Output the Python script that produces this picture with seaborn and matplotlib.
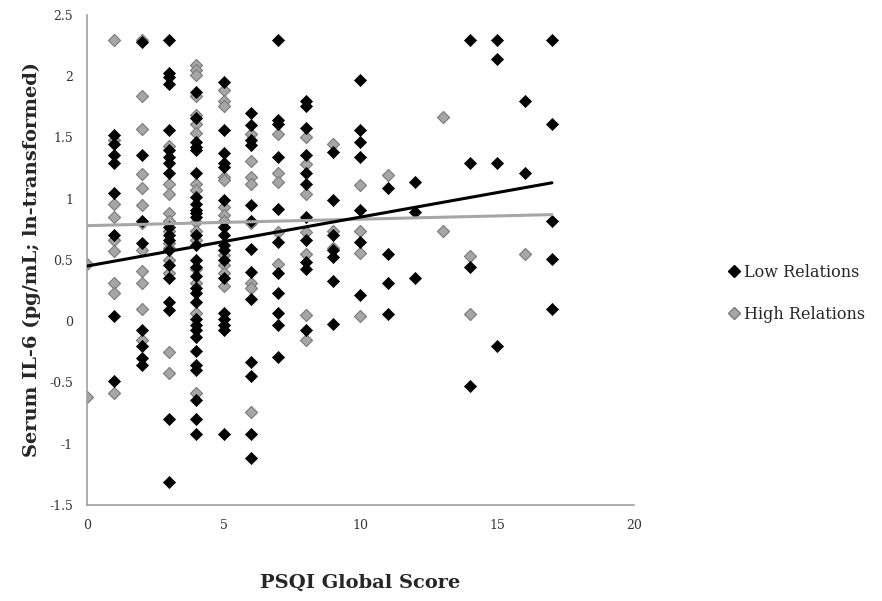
import matplotlib
matplotlib.use("Agg")
import matplotlib.pyplot as plt
import seaborn as sns
import pandas as pd
from matplotlib.lines import Line2D

# PSQI score (x) and serum IL-6 (y) for the Low Relations group
low_psqi = ([1] * 8 + [2] * 8 + [3] * 19 + [4] * 29 + [5] * 17 + [6] * 13 + [7] * 11
            + [8] * 11 + [9] * 7 + [10] * 7 + [11] * 4 + [12] * 3 + [14] * 4 + [15] * 4
            + [16] * 2 + [17] * 5)
low_il6 = [
    1.52, 1.45, 1.36, 1.29, 1.05, 0.70, 0.04, -0.49,
    2.28, 1.36, 0.82, 0.64, -0.07, -0.20, -0.30, -0.36,
    2.30, 2.03, 1.99, 1.94, 1.56, 1.40, 1.34, 1.29, 1.21, 0.77, 0.70, 0.66, 0.58, 0.46,
    0.35, 0.16, 0.09, -0.80, -1.31,
    1.87, 1.66, 1.46, 1.42, 1.40, 1.21, 1.01, 0.96, 0.91, 0.88, 0.85, 0.70, 0.62, 0.50,
    0.44, 0.37, 0.27, 0.23, 0.16, 0.02, -0.03, -0.07, -0.13, -0.24, -0.36, -0.40, -0.64,
    -0.80, -0.92,
    1.95, 1.56, 1.37, 1.29, 1.26, 0.99, 0.77, 0.70, 0.62, 0.58, 0.50, 0.35, 0.07, 0.02,
    -0.03, -0.07, -0.92,
    1.70, 1.60, 1.48, 1.44, 0.95, 0.82, 0.59, 0.40, 0.18, -0.33, -0.45, -0.92, -1.12,
    2.30, 1.64, 1.61, 1.34, 0.92, 0.65, 0.39, 0.23, 0.07, -0.03, -0.29,
    1.80, 1.76, 1.58, 1.36, 1.21, 1.12, 0.85, 0.66, 0.48, 0.43, -0.07,
    1.38, 0.99, 0.70, 0.58, 0.52, 0.33, -0.02,
    1.97, 1.56, 1.46, 1.34, 0.91, 0.65, 0.21,
    1.09, 0.55, 0.31, 0.06,
    1.14, 0.89, 0.35,
    2.30, 1.29, 0.44, -0.53,
    2.30, 2.14, 1.29, -0.20,
    1.80, 1.21,
    2.30, 1.61, 0.82, 0.51, 0.10,
]

# same for the High Relations group
high_psqi = ([0] * 2 + [1] * 9 + [2] * 12 + [3] * 12 + [4] * 16 + [5] * 12 + [6] * 8
             + [7] * 5 + [8] * 7 + [9] * 3 + [10] * 4 + [11] * 1 + [13] * 2 + [14] * 2
             + [16] * 1)
high_il6 = [
    0.47, -0.62,
    2.30, 1.48, 0.96, 0.85, 0.66, 0.57, 0.31, 0.23, -0.59,
    2.30, 1.84, 1.57, 1.20, 1.09, 0.95, 0.80, 0.58, 0.41, 0.31, 0.10, -0.15,
    1.43, 1.12, 1.04, 0.88, 0.82, 0.74, 0.64, 0.60, 0.50, 0.39, -0.25, -0.42,
    2.09, 2.05, 2.01, 1.84, 1.68, 1.61, 1.54, 1.12, 1.07, 0.81, 0.74, 0.66, 0.43, 0.31,
    0.07, -0.59,
    1.89, 1.80, 1.76, 1.18, 1.15, 0.93, 0.87, 0.82, 0.54, 0.46, 0.39, 0.29,
    1.53, 1.31, 1.18, 1.12, 0.80, 0.31, 0.27, -0.74,
    1.53, 1.21, 1.14, 0.73, 0.47,
    1.50, 1.28, 1.04, 0.73, 0.55, 0.05, -0.15,
    1.45, 0.74, 0.60,
    1.11, 0.74, 0.56, 0.04,
    1.19,
    1.67, 0.74,
    0.53, 0.06,
    0.55,
]

# fitted trend lines (endpoints)
trend_x = [0, 17]
low_trend = [0.45, 1.13]
high_trend = [0.78, 0.87]

groups = ["Low Relations", "High Relations"]

df = pd.DataFrame({
    "psqi": low_psqi + high_psqi,
    "il6": low_il6 + high_il6,
    "group": [groups[0]] * len(low_psqi) + [groups[1]] * len(high_psqi),
})

sns.set_style("white")
plt.rcParams["font.family"] = ["DejaVu Serif"]

fig = plt.figure(figsize=(8.82, 6.01), dpi=100)
ax = fig.add_axes([0.0986, 0.160, 0.6202, 0.815])

sns.scatterplot(data=df[df.group == groups[1]], x="psqi", y="il6", marker="D", s=38,
                color="#a6a6a6", edgecolor="#7a7a7a", linewidth=0.8, ax=ax, zorder=2,
                legend=False)
sns.scatterplot(data=df[df.group == groups[0]], x="psqi", y="il6", marker="D", s=38,
                color="black", edgecolor="black", linewidth=0.5, ax=ax, zorder=3,
                legend=False)

sns.lineplot(x=trend_x, y=high_trend, color="#a6a6a6", linewidth=2.2, ax=ax, zorder=4)
sns.lineplot(x=trend_x, y=low_trend, color="black", linewidth=2.2, ax=ax, zorder=5)

ax.set_xlim(0, 20)
ax.set_ylim(-1.5, 2.5)
ax.set_xticks([0, 5, 10, 15, 20])
ax.set_xticklabels(["0", "5", "10", "15", "20"])
ax.set_yticks([-1.5, -1, -0.5, 0, 0.5, 1, 1.5, 2, 2.5])
ax.set_yticklabels(["-1.5", "-1", "-0.5", "0", "0.5", "1", "1.5", "2", "2.5"])

for side in ["top", "right"]:
    ax.spines[side].set_visible(False)
for side in ["left", "bottom"]:
    ax.spines[side].set_color("#a0a0a0")
    ax.spines[side].set_linewidth(1.2)
ax.tick_params(axis="both", direction="out", length=4, width=1, color="#a0a0a0",
               labelsize=9, labelcolor="#333333", pad=6)

ax.set_xlabel("PSQI Global Score", fontsize=14, fontweight="bold", labelpad=30)
ax.set_ylabel("Serum IL-6 (pg/mL; ln-transformed)", fontsize=14, fontweight="bold",
              labelpad=6)

handles = [
    Line2D([], [], marker="D", linestyle="none", markersize=6, color="black"),
    Line2D([], [], marker="D", linestyle="none", markersize=6,
           markerfacecolor="#a6a6a6", markeredgecolor="#7a7a7a"),
]
fig.legend(handles, groups, loc="center left", bbox_to_anchor=(0.807, 0.512),
           frameon=False, fontsize=11.5, handletextpad=0.1, labelspacing=1.6,
           handlelength=1.0)

fig.savefig("out.png", dpi=100)
